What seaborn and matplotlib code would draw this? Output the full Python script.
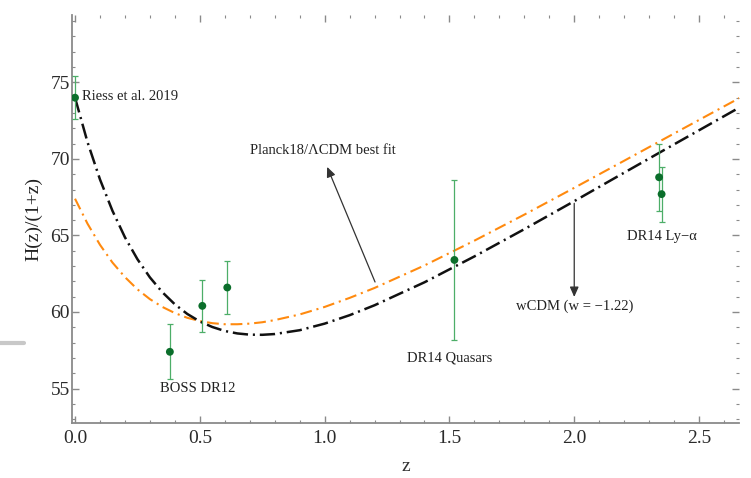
import matplotlib
matplotlib.use("Agg")
import matplotlib.pyplot as plt
from matplotlib.lines import Line2D
from matplotlib.ticker import MultipleLocator
import seaborn as sns

# H(z)/(1+z) model curves sampled in redshift
z_grid = [0.0, 0.05, 0.1, 0.15, 0.2, 0.25, 0.3, 0.35, 0.4, 0.45, 0.5, 0.55,
          0.6, 0.65, 0.7, 0.75, 0.8, 0.9, 1.0, 1.1, 1.2, 1.4, 1.6, 1.8, 2.0,
          2.2, 2.4, 2.6, 2.7]
lcdm_planck = [67.40, 65.77, 64.39, 63.23, 62.28, 61.48, 60.84, 60.33, 59.93,
               59.62, 59.41, 59.27, 59.20, 59.20, 59.24, 59.33, 59.47, 59.84,
               60.33, 60.92, 61.57, 63.04, 64.66, 66.36, 68.11, 69.88, 71.66,
               73.43, 74.31]
wcdm = [74.00, 71.10, 68.66, 66.61, 64.88, 63.45, 62.26, 61.29, 60.50, 59.87,
        59.38, 59.02, 58.76, 58.60, 58.52, 58.51, 58.56, 58.81, 59.24, 59.79,
        60.44, 61.94, 63.63, 65.41, 67.24, 69.10, 70.95, 72.79, 73.71]

# Measurements: Riess 2019, BOSS DR12, DR14 quasars, DR14 Ly-alpha
obs_z = [0.0, 0.38, 0.51, 0.61, 1.52, 2.34, 2.35]
obs_h = [74.0, 57.4, 60.4, 61.6, 63.4, 68.8, 67.7]
obs_err = [1.4, 1.8, 1.7, 1.7, 5.2, 2.2, 1.8]

sns.set_theme(style="ticks")
plt.rcParams["font.family"] = ["Liberation Serif", "DejaVu Serif"]
plt.rcParams["mathtext.fontset"] = "stix"
plt.rcParams["lines.scale_dashes"] = False

fig = plt.figure(figsize=(7.51, 4.78), dpi=100)
ax = fig.add_axes([0.0959, 0.1151, 0.8881, 0.8535])

orange = "#FF8A0F"
black = "#111111"
pt_col = "#0B6E2B"
err_col = "#4DAE68"

sns.lineplot(x=z_grid, y=lcdm_planck, ax=ax, color=orange, lw=1.5,
             linestyle=(0, (8.5, 3.5, 1.5, 3.5)), estimator=None, zorder=3)
sns.lineplot(x=z_grid, y=wcdm, ax=ax, color=black, lw=1.8,
             linestyle=(0, (11, 3.5, 1.5, 3.5)), estimator=None, zorder=3)

ax.errorbar(obs_z, obs_h, yerr=obs_err, fmt="none", ecolor=err_col,
            elinewidth=0.9, capsize=2.2, capthick=0.9, zorder=4)
sns.scatterplot(x=obs_z, y=obs_h, ax=ax, color=pt_col, s=32,
                edgecolor="none", linewidth=0, zorder=5)

ax.set_xlim(-0.012, 2.66)
ax.set_ylim(52.75, 79.4)
ax.xaxis.set_major_locator(MultipleLocator(0.5))
ax.xaxis.set_minor_locator(MultipleLocator(0.1))
ax.yaxis.set_major_locator(MultipleLocator(5))
ax.yaxis.set_minor_locator(MultipleLocator(1))
ax.xaxis.set_major_formatter(plt.FuncFormatter(lambda v, p: f"{v:.1f}"))

spine_col = "#8a8a8a"
for s in ("top", "right"):
    ax.spines[s].set_visible(False)
for s in ("left", "bottom"):
    ax.spines[s].set_color(spine_col)
    ax.spines[s].set_linewidth(1.3)

ax.tick_params(which="both", direction="in", top=True, right=True,
               color=spine_col, labelcolor="#2a2a2a", labelsize=14)
ax.tick_params(which="major", length=5, width=1.0)
ax.tick_params(which="minor", length=2.5, width=0.8)
ax.tick_params(axis="x", pad=5)
ax.tick_params(axis="y", pad=1.5)

ax.set_xlabel("z", fontsize=14, color="#333333", labelpad=8)
ax.set_ylabel("H(z)/(1+z)", fontsize=14, color="#222222", labelpad=6)

txt = dict(fontsize=10.5, color="#222222")
ax.text(0.028, 74.05, "Riess et al. 2019", ha="left", va="center", **txt)
ax.text(0.70, 70.52, "Planck18/\u039bCDM best fit", ha="left", va="center", **txt)
ax.text(0.49, 54.97, "BOSS DR12", ha="center", va="center", **txt)
ax.text(1.50, 56.99, "DR14 Quasars", ha="center", va="center", **txt)
ax.text(2.353, 64.9, "DR14 Ly\u2212\u03b1", ha="center", va="center", **txt)
ax.text(2.0, 60.39, "wCDM (w = \u22121.22)", ha="center", va="center", **txt)

arrow = dict(arrowstyle="-|>,head_length=0.5,head_width=0.22", color="#333333",
             lw=0.9, mutation_scale=12, shrinkA=0, shrinkB=0)
ax.annotate("", xy=(1.010, 69.48), xytext=(1.202, 61.96), arrowprops=arrow)
ax.annotate("", xy=(2.0, 60.98), xytext=(2.0, 67.1), arrowprops=arrow)

# short grey rule at the left margin
fig.add_artist(Line2D([0.0, 24 / 751], [0.2824, 0.2824], color="#c8c8c8",
                      lw=3.0, transform=fig.transFigure))

fig.savefig("out.png", dpi=100, facecolor="white")
